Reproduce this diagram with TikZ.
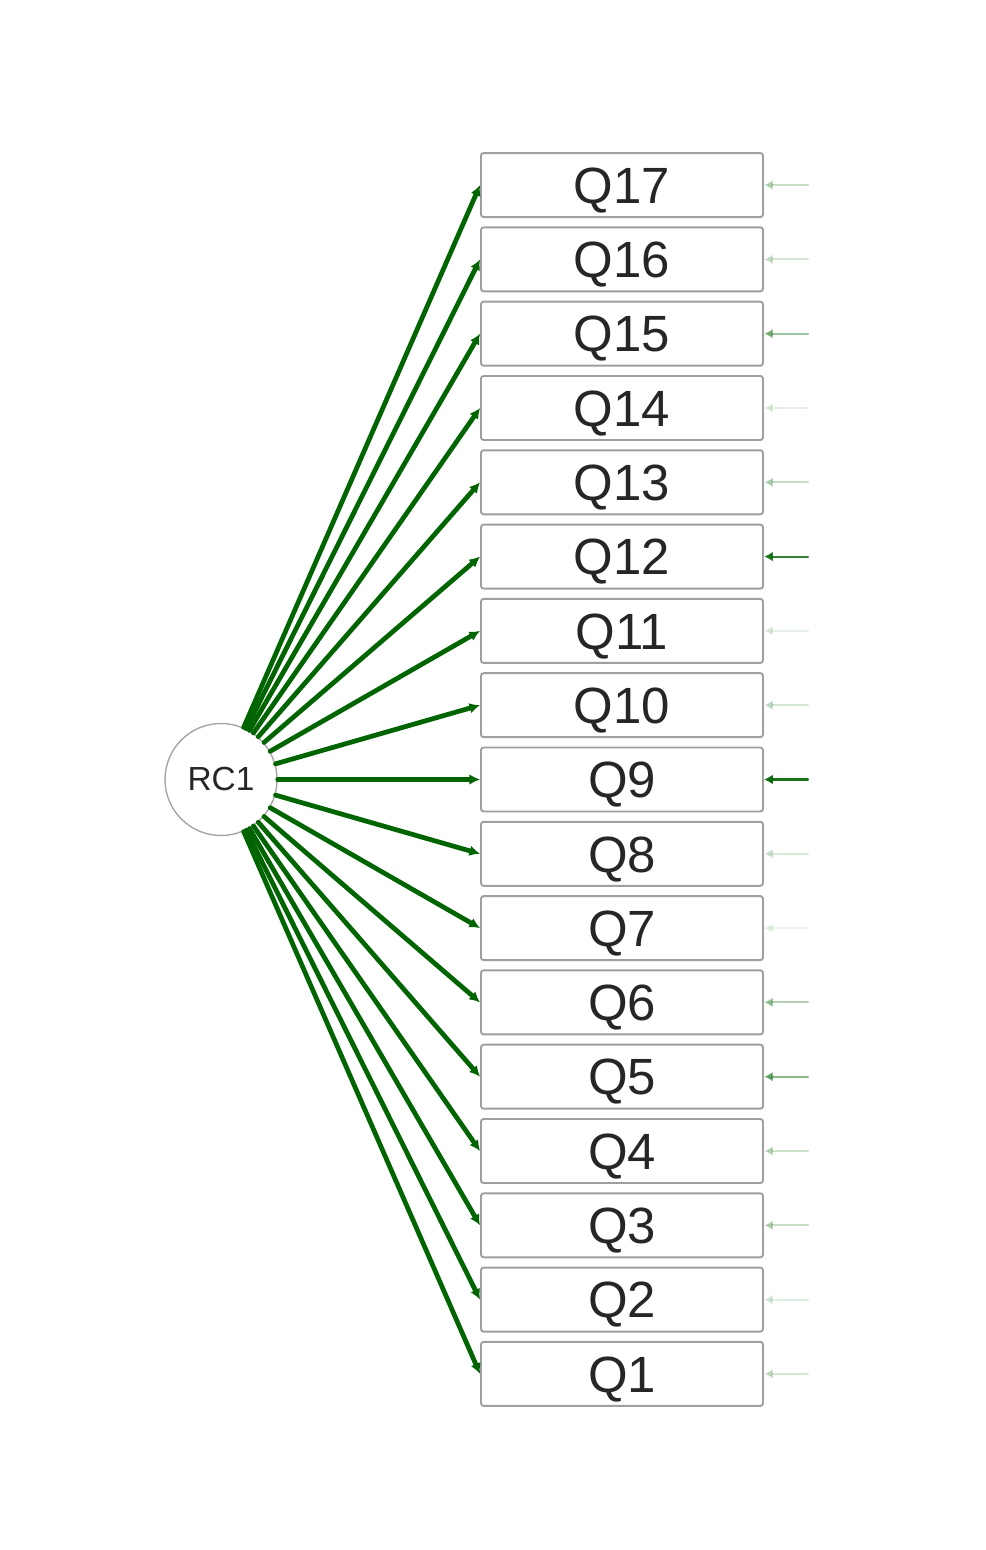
\documentclass[tikz,border=0pt]{standalone}
\usepackage{fontspec}
\setmainfont{Liberation Sans}
\usetikzlibrary{arrows.meta}

\definecolor{loadgreen}{RGB}{0,100,0}
\tikzset{
  item/.style={draw=gray!75, line width=1.1pt, rounded corners=1.5pt, fill=white,
    minimum width=5.64cm, minimum height=1.28cm, inner sep=0pt,
    text height=20.8pt, text depth=0pt, text=black!85,
    font=\fontsize{29}{30}\selectfont},
  factor/.style={draw=gray!70, line width=0.8pt, circle, minimum size=2.24cm,
    inner sep=0pt, text=black!85, font=\fontsize{19}{20}\selectfont},
  load/.style={loadgreen, line width=2.7pt, -{Latex[length=6pt,width=6pt]}},
  resid/.style={loadgreen, line width=1.2pt, -{Latex[length=5pt,width=5.5pt]}}
}

\begin{document}
\begin{tikzpicture}[line cap=round,line join=round]
\useasboundingbox (0,0) rectangle (19.72,31);

\node[factor] (rc1) at (4.42,15.41) {RC1};

\node[item] (q17) at (12.44,27.298) {Q17};
\node[item] (q16) at (12.44,25.812) {Q16};
\node[item] (q15) at (12.44,24.326) {Q15};
\node[item] (q14) at (12.44,22.84) {Q14};
\node[item] (q13) at (12.44,21.354) {Q13};
\node[item] (q12) at (12.44,19.868) {Q12};
\node[item] (q11) at (12.44,18.382) {Q11};
\node[item] (q10) at (12.44,16.896) {Q10};
\node[item] (q9) at (12.44,15.41) {Q9};
\node[item] (q8) at (12.44,13.924) {Q8};
\node[item] (q7) at (12.44,12.438) {Q7};
\node[item] (q6) at (12.44,10.952) {Q6};
\node[item] (q5) at (12.44,9.466) {Q5};
\node[item] (q4) at (12.44,7.98) {Q4};
\node[item] (q3) at (12.44,6.494) {Q3};
\node[item] (q2) at (12.44,5.008) {Q2};
\node[item] (q1) at (12.44,3.522) {Q1};

% loadings
\draw[load] (rc1) -- (q17.west);
\draw[load] (rc1) -- (q16.west);
\draw[load] (rc1) -- (q15.west);
\draw[load] (rc1) -- (q14.west);
\draw[load] (rc1) -- (q13.west);
\draw[load] (rc1) -- (q12.west);
\draw[load] (rc1) -- (q11.west);
\draw[load] (rc1) -- (q10.west);
\draw[load] (rc1) -- (q9.west);
\draw[load] (rc1) -- (q8.west);
\draw[load] (rc1) -- (q7.west);
\draw[load] (rc1) -- (q6.west);
\draw[load] (rc1) -- (q5.west);
\draw[load] (rc1) -- (q4.west);
\draw[load] (rc1) -- (q3.west);
\draw[load] (rc1) -- (q2.west);
\draw[load] (rc1) -- (q1.west);

% residuals
\coordinate (e17) at (16.16,27.298);
\coordinate (e16) at (16.16,25.812);
\coordinate (e15) at (16.16,24.326);
\coordinate (e14) at (16.16,22.84);
\coordinate (e13) at (16.16,21.354);
\coordinate (e12) at (16.16,19.868);
\coordinate (e11) at (16.16,18.382);
\coordinate (e10) at (16.16,16.896);
\coordinate (e9) at (16.16,15.41);
\coordinate (e8) at (16.16,13.924);
\coordinate (e7) at (16.16,12.438);
\coordinate (e6) at (16.16,10.952);
\coordinate (e5) at (16.16,9.466);
\coordinate (e4) at (16.16,7.98);
\coordinate (e3) at (16.16,6.494);
\coordinate (e2) at (16.16,5.008);
\coordinate (e1) at (16.16,3.522);
\draw[resid, opacity=0.22] (e17) -- (q17.east);
\draw[resid, opacity=0.16] (e16) -- (q16.east);
\draw[resid, opacity=0.38] (e15) -- (q15.east);
\draw[resid, opacity=0.1] (e14) -- (q14.east);
\draw[resid, opacity=0.22] (e13) -- (q13.east);
\draw[resid, opacity=0.8] (e12) -- (q12.east);
\draw[resid, opacity=0.1] (e11) -- (q11.east);
\draw[resid, opacity=0.17] (e10) -- (q10.east);
\draw[resid, opacity=0.9] (e9) -- (q9.east);
\draw[resid, opacity=0.14] (e8) -- (q8.east);
\draw[resid, opacity=0.08] (e7) -- (q7.east);
\draw[resid, opacity=0.3] (e6) -- (q6.east);
\draw[resid, opacity=0.45] (e5) -- (q5.east);
\draw[resid, opacity=0.2] (e4) -- (q4.east);
\draw[resid, opacity=0.22] (e3) -- (q3.east);
\draw[resid, opacity=0.12] (e2) -- (q2.east);
\draw[resid, opacity=0.17] (e1) -- (q1.east);
\end{tikzpicture}
\end{document}
